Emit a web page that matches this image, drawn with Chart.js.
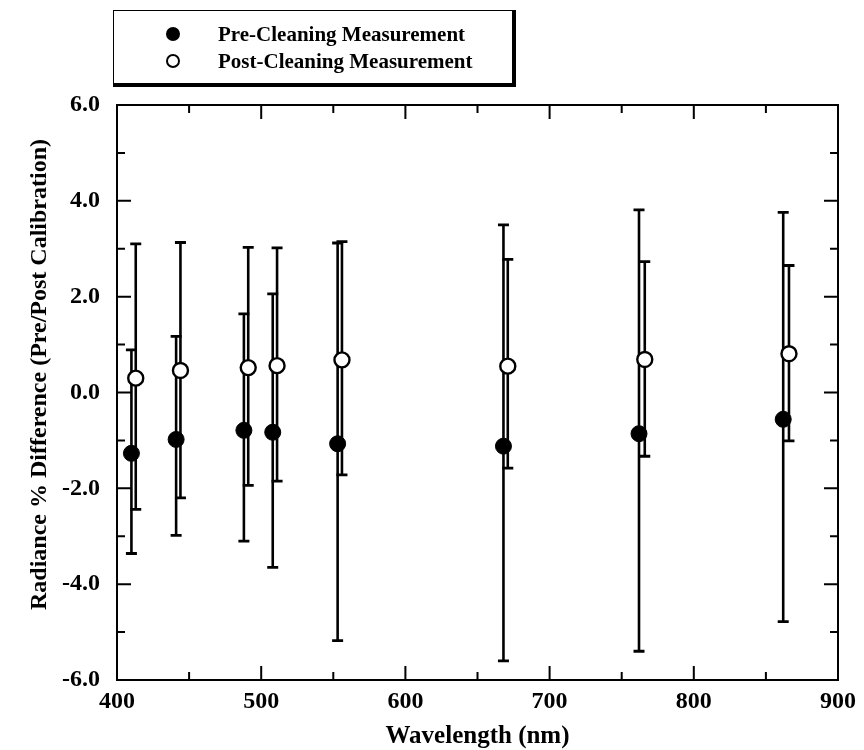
<!DOCTYPE html>
<html>
<head>
<meta charset="utf-8">
<script src="https://cdn.jsdelivr.net/npm/chart.js@4.4.1/dist/chart.umd.min.js"></script>
<style>
  html, body { margin: 0; padding: 0; background: #fff; }
  #wrap { position: relative; width: 864px; height: 750px; }
  #legend {
    position: absolute; left: 113px; top: 10px; width: 398px; height: 72px;
    border-top: 1.5px solid #000; border-left: 1.5px solid #000;
    border-right: 4px solid #000; border-bottom: 4px solid #000;
    font-family: "Liberation Serif", serif; font-size: 21px; font-weight: bold; color: #000;
  }
  .row { position: absolute; left: 0; height: 24px; line-height: 24px; white-space: nowrap; }
  .mark { position: absolute; top: 5px; width: 14px; height: 14px; border-radius: 50%; box-sizing: border-box; }
  .lbl { position: absolute; left: 104px; top: 0; }
</style>
</head>
<body>
<div id="wrap">
  <canvas id="chart" width="864" height="750"></canvas>
  <div id="legend"></div>
</div>
<script>
// wavelengths (nm), pre points drawn a little left of post points
const preWavelength  = [410, 441, 488, 508, 553, 668, 762, 862];
const preValue       = [-1.27, -0.98, -0.79, -0.83, -1.07, -1.12, -0.86, -0.56];
const preHigh        = [0.89, 1.17, 1.64, 2.06, 3.12, 3.50, 3.81, 3.76];
const preLow         = [-3.36, -2.98, -3.10, -3.65, -5.18, -5.60, -5.40, -4.78];

const postWavelength = [413, 444, 491, 511, 556, 671, 766, 866];
const postValue      = [0.30, 0.46, 0.52, 0.56, 0.68, 0.55, 0.69, 0.81];
const postHigh       = [3.10, 3.13, 3.03, 3.02, 3.15, 2.78, 2.73, 2.65];
const postLow        = [-2.44, -2.20, -1.94, -1.85, -1.72, -1.58, -1.33, -1.01];

const xTicks = [400, 500, 600, 700, 800, 900];
const yTicks = [-6, -4, -2, 0, 2, 4, 6];

const seriesLabels = ["Pre-Cleaning Measurement", "Post-Cleaning Measurement"];
const yTitle = "Radiance % Difference (Pre/Post Calibration)";

const serif = "'Liberation Serif', 'Times New Roman', serif";

function points(xs, ys, lo, hi){
  return xs.map((x, i) => ({ x, y: ys[i], yMin: lo[i], yMax: hi[i] }));
}

function minors(list){
  const out = [];
  for (let i = 0; i < list.length - 1; i++) out.push((list[i] + list[i + 1]) / 2);
  return out;
}

const errorBars = {
  id: "errorBars",
  beforeDatasetsDraw(chart){
    const { ctx, scales: { x, y } } = chart;
    ctx.save();
    ctx.strokeStyle = "#000";
    chart.data.datasets.forEach(ds => {
      ds.data.forEach(p => {
        const px = x.getPixelForValue(p.x);
        const top = y.getPixelForValue(p.yMax);
        const bot = y.getPixelForValue(p.yMin);
        ctx.lineWidth = 2.6;
        ctx.beginPath();
        ctx.moveTo(px, top); ctx.lineTo(px, bot);
        ctx.stroke();
        ctx.lineWidth = 2.8;
        ctx.beginPath();
        ctx.moveTo(px - 5.5, top); ctx.lineTo(px + 5.5, top);
        ctx.moveTo(px - 5.5, bot); ctx.lineTo(px + 5.5, bot);
        ctx.stroke();
      });
    });
    ctx.restore();
  }
};

const frameTicks = {
  id: "frameTicks",
  afterDraw(chart){
    const { ctx, chartArea: a, scales: { x, y } } = chart;
    ctx.save();
    ctx.strokeStyle = "#000";
    ctx.lineWidth = 2;
    ctx.strokeRect(a.left, a.top, a.right - a.left, a.bottom - a.top);
    const tickX = (vals, len) => {
      vals.forEach(v => {
        const px = x.getPixelForValue(v);
        ctx.moveTo(px, a.bottom); ctx.lineTo(px, a.bottom - len);
        ctx.moveTo(px, a.top); ctx.lineTo(px, a.top + len);
      });
    };
    const tickY = (vals, len) => {
      vals.forEach(v => {
        const py = y.getPixelForValue(v);
        ctx.moveTo(a.left, py); ctx.lineTo(a.left + len, py);
        ctx.moveTo(a.right, py); ctx.lineTo(a.right - len, py);
      });
    };
    ctx.beginPath();
    tickX(xTicks, 14); tickX(minors(xTicks), 8);
    tickY(yTicks, 14); tickY(minors(yTicks), 8);
    ctx.stroke();

    // y axis title, sits a little above the middle of the axis as in the scan
    ctx.fillStyle = "#000";
    ctx.font = "bold 24px " + serif;
    ctx.textAlign = "center";
    ctx.textBaseline = "middle";
    ctx.translate(40, (a.top + a.bottom) / 2 - 18);
    ctx.rotate(-Math.PI / 2);
    ctx.fillText(yTitle, 0, 0);
    ctx.restore();
  }
};

const chart = new Chart(document.getElementById("chart"), {
  type: "scatter",
  data: {
    datasets: [
      {
        label: seriesLabels[0],
        data: points(preWavelength, preValue, preLow, preHigh),
        pointRadius: 8,
        pointBackgroundColor: "#000",
        pointBorderColor: "#000",
        pointBorderWidth: 1
      },
      {
        label: seriesLabels[1],
        data: points(postWavelength, postValue, postLow, postHigh),
        pointRadius: 7.5,
        pointBackgroundColor: "#fff",
        pointBorderColor: "#000",
        pointBorderWidth: 2.4
      }
    ]
  },
  options: {
    responsive: false,
    animation: false,
    devicePixelRatio: 1,
    layout: { padding: { left: 0, top: 105, right: 26, bottom: 0 } },
    plugins: { legend: { display: false }, tooltip: { enabled: false } },
    scales: {
      x: {
        type: "linear", min: 400, max: 900,
        afterBuildTicks: s => { s.ticks = xTicks.map(v => ({ value: v })); },
        afterFit: s => { s.height = 70; },
        grid: { display: false, drawTicks: false },
        border: { display: false },
        ticks: { color: "#000", padding: 7, font: { family: serif, size: 24, weight: "bold" }, callback: v => String(v) },
        title: { display: true, text: "Wavelength (nm)", color: "#000", padding: { top: 0, bottom: 1 },
                 font: { family: serif, size: 25, weight: "bold", lineHeight: 1.0 } }
      },
      y: {
        type: "linear", min: -6, max: 6,
        afterBuildTicks: s => { s.ticks = yTicks.map(v => ({ value: v })); },
        afterFit: s => { s.width = 117; },
        grid: { display: false, drawTicks: false },
        border: { display: false },
        ticks: { color: "#000", padding: 17, font: { family: serif, size: 24, weight: "bold" }, callback: v => v.toFixed(1) }
      }
    }
  },
  plugins: [errorBars, frameTicks]
});

// legend box built from the dataset labels
const legend = document.getElementById("legend");
chart.data.datasets.forEach((ds, i) => {
  const row = document.createElement("div");
  row.className = "row";
  row.style.top = (11 + i * 27) + "px";
  const mark = document.createElement("span");
  mark.className = "mark";
  mark.style.left = "52px";
  mark.style.background = ds.pointBackgroundColor;
  mark.style.border = "2px solid #000";
  const lbl = document.createElement("span");
  lbl.className = "lbl";
  lbl.textContent = ds.label;
  row.appendChild(mark); row.appendChild(lbl);
  legend.appendChild(row);
});
</script>
</body>
</html>
